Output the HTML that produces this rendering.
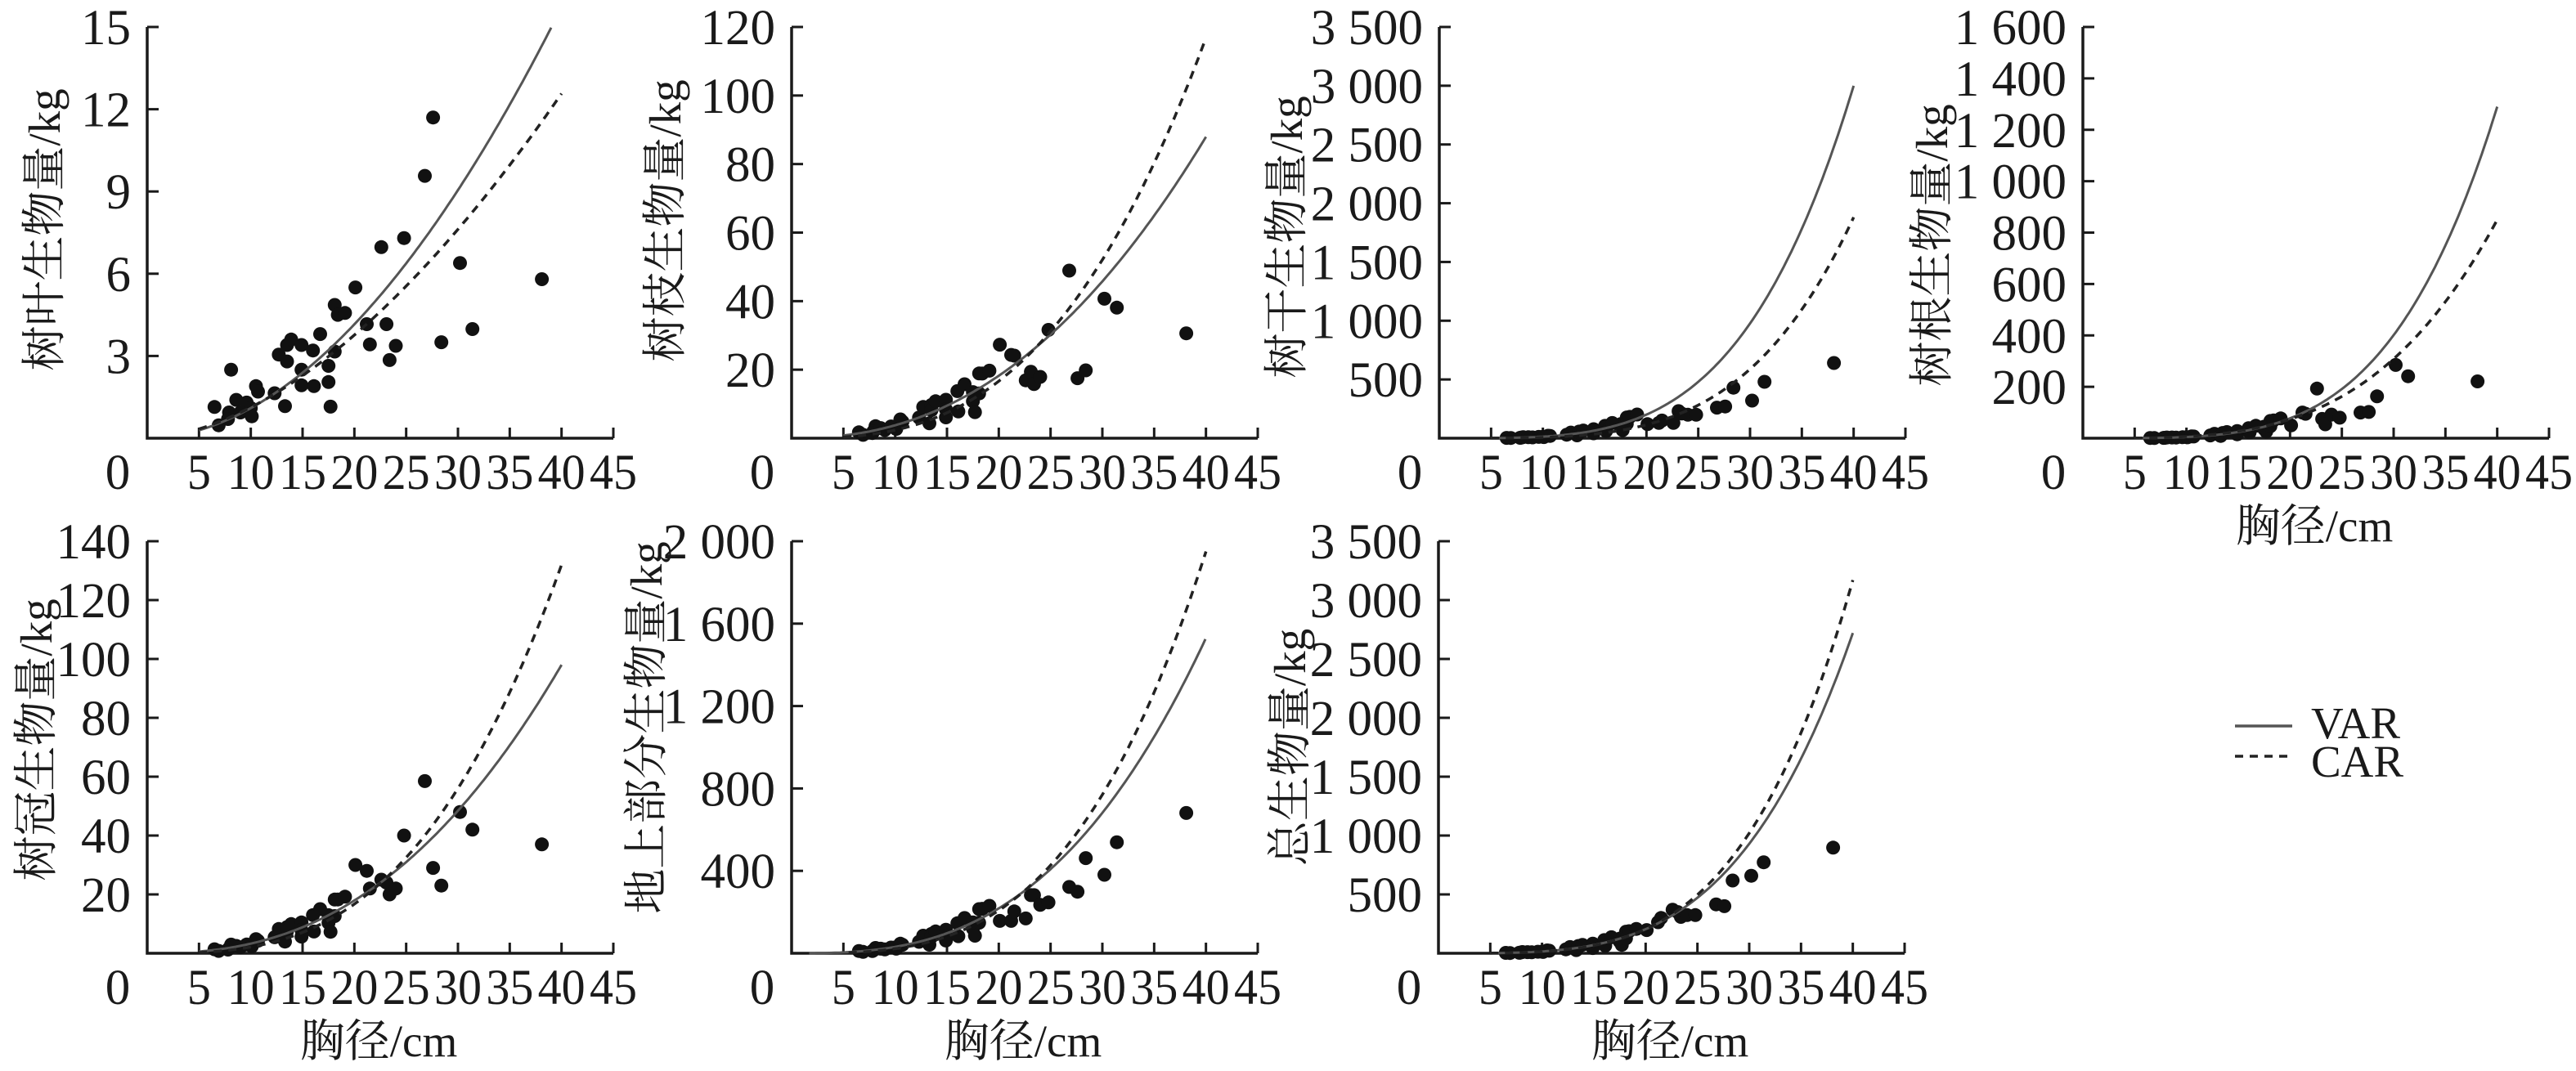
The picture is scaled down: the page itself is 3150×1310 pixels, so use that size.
<!DOCTYPE html>
<html><head><meta charset="utf-8">
<style>
html,body{margin:0;padding:0;background:#fff;}
svg{display:block;}
text{font-family:"Liberation Serif","Noto Serif CJK SC","Noto Sans CJK SC",serif;fill:#1a1a1a;}
</style></head>
<body>
<svg id="s" xmlns="http://www.w3.org/2000/svg" width="3150" height="1310" viewBox="0 0 3150 1310" font-family="'Liberation Serif','Noto Serif CJK SC',serif"></svg>
<script>
const S=document.getElementById('s');
let out='';
const D=[6.5,6.9,8.1,7.9,7.8,8.6,9.0,9.6,10,10.1,10.5,10.7,12.3,12.7,13.3,13.5,13.5,13.9,14.9,14.9,14.9,16,16.1,16.7,17.5,17.5,17.7,18.1,18.1,18.4,19.1];
const F=[1.2,0.6,1.5,0.9,0.7,1.1,0.8,1.0,0.9,0.7,1.3,1.1,1.0,1.4,0.6,1.3,1.1,1.35,1.2,0.9,0.65,1.25,0.7,1.3,1.0,0.8,0.55,0.9,1.3,1.25,1.2];
const BIG=[20.1,21.2,21.5,22.6,23.1,23.4,24,24.8,26.8,27.6,28.4,30.2,31.4,38.1];
const P=[
 {ox:180,oy:536,top:33,ymax:15,step:3,fmt:v=>v,lab:'树叶生物量/kg',lx:54,ly:281,
  va:[0.0132,1.92],ca:[0.0205,1.74],
  pts:[[6.5,1.14],[6.9,0.47],[8.1,2.5],[7.9,0.94],[7.8,0.7],[8.6,1.4],[9.0,0.94],[9.6,1.3],[10,1.1],[10.1,0.8],[10.5,1.9],[10.7,1.7],[12.3,1.64],[12.7,3.05],[13.3,1.17],[13.5,3.4],[13.5,2.8],[13.9,3.6],[14.9,3.4],[14.9,2.5],[14.9,1.93],[16,3.2],[16.1,1.9],[16.7,3.8],[17.5,2.64],[17.5,2.05],[17.7,1.15],[18.1,3.16],[18.1,4.86],[18.4,4.5],[19.1,4.57],[20.1,5.5],[21.2,4.16],[21.5,3.42],[22.6,6.97],[23.1,4.16],[23.4,2.85],[24,3.37],[24.8,7.3],[26.8,9.57],[27.6,11.7],[28.4,3.5],[30.2,6.39],[31.4,3.98],[38.1,5.8]]},
 {ox:968,oy:536,top:33,ymax:120,step:20,fmt:v=>v,lab:'树枝生物量/kg',lx:813,ly:270,
  va:[0.0203,2.27],ca:[0.00368,2.81],
  big:[27.3,24.3,24.1,16.9,19.4,15.8,17.9,31.6,48.9,17.5,19.8,40.7,38.1,30.6]},
 {ox:1760,oy:536,top:33,ymax:3500,step:500,fmt:v=>fm(v),lab:'树干生物量/kg',lx:1573,ly:290,
  vb:[40,3000,3.9],cb:[40,1880,4.04],
  big:[120,130,150,130,230,210,200,200,260,270,430,320,480,640]},
 {ox:2547,oy:536,top:33,ymax:1600,step:200,fmt:v=>fm(v),lab:'树根生物量/kg',lx:2362,ly:300,
  vb:[40,1290,4.06],cb:[40,850,3.52],xl:true,
  big:[50,100,95,193,75,54,92,80,100,102,163,285,241,221]},
 {ox:180,oy:1166,top:662,ymax:140,step:20,fmt:v=>v,lab:'树冠生物量/kg',lx:44,ly:905,
  vb:[40,98,2.45],cb:[40,132,2.98],xl:true,
  big:[30,28,22,25,24,20,22,40,58.5,29,23,48,42,37]},
 {ox:968,oy:1166,top:662,ymax:2000,step:400,fmt:v=>fm(v),lab:'地上部分生物量/kg',lx:790,ly:890,
  vb:[40,1530,2.81],cb:[40,1950,3.23],xl:true,vStart:1.7,
  big:[157,157,203,169,282,282,235,247,322,299,462,381,539,681]},
 {ox:1759,oy:1166,top:662,ymax:3500,step:500,fmt:v=>fm(v),lab:'总生物量/kg',lx:1577,ly:914,
  vb:[40,2720,3.73],cb:[40,3170,3.94],xl:true,
  big:[197,264,300,370,350,309,324,324,415,400,618,658,773,897]}
];
function fm(v){v=String(v);return v.length>3?v.slice(0,v.length-3)+' '+v.slice(-3):v;}
const PX=570/45;
P.forEach(p=>{
  const H=p.oy-p.top;
  const X=x=>p.ox+x*PX, Y=y=>p.oy-y/p.ymax*H;
  let fv,fc;
  if(p.va){fv=x=>p.va[0]*Math.pow(x,p.va[1]);fc=x=>p.ca[0]*Math.pow(x,p.ca[1]);}
  else{fv=x=>p.vb[1]*Math.pow(x/p.vb[0],p.vb[2]);fc=x=>p.cb[1]*Math.pow(x/p.cb[0],p.cb[2]);}
  out+=`<path d="M${p.ox} ${p.top}V${p.oy}H${p.ox+570}" fill="none" stroke="#1a1a1a" stroke-width="3.5"/>`;
  for(let v=p.step;v<=p.ymax+1e-9;v+=p.step){
    const y=Y(v);
    out+=`<line x1="${p.ox}" y1="${y}" x2="${p.ox+14}" y2="${y}" stroke="#1a1a1a" stroke-width="3"/>`;
    out+=`<text x="${p.ox-20}" y="${y+21}" font-size="61" text-anchor="end">${p.fmt(Math.round(v*100)/100)}</text>`;
  }
  const ty=p.oy+62;
  out+=`<text x="${p.ox-36}" y="${ty}" font-size="61" text-anchor="middle">0</text>`;
  for(let i=1;i<=9;i++){
    const x=X(i*5);
    out+=`<line x1="${x}" y1="${p.oy}" x2="${x}" y2="${p.oy-13}" stroke="#1a1a1a" stroke-width="3"/>`;
    out+=`<text x="${x}" y="${ty}" font-size="61" text-anchor="middle" textLength="${i==1?29:58}" lengthAdjust="spacingAndGlyphs">${i*5}</text>`;
  }
  out+=`<text transform="translate(${p.lx+19},${p.ly}) rotate(-90)" font-size="55" text-anchor="middle">${p.lab}</text>`;
  if(p.xl) out+=`<text x="${p.ox+283}" y="${p.oy+126}" font-size="55" text-anchor="middle">胸径/cm</text>`;
  let pts=p.pts;
  if(!pts){pts=D.map((x,i)=>[x,fv(x)*F[i]]);BIG.forEach((x,i)=>pts.push([x,p.big[i]]));}
  pts.forEach(q=>{out+=`<circle cx="${X(q[0]).toFixed(1)}" cy="${Y(q[1]).toFixed(1)}" r="8.5" fill="#111"/>`;});
  const path=(f,a,b)=>{let d='';for(let x=a;x<=b+1e-6;x+=0.25){let y=f(x);if(y>p.ymax)break;d+=(d?'L':'M')+X(x).toFixed(1)+' '+Y(y).toFixed(1);}return d;};
  out+=`<path d="${path(fv,p.vStart||5,40)}" fill="none" stroke="#555" stroke-width="3"/>`;
  out+=`<path d="${path(fc,p.vStart?5.5:5,40)}" fill="none" stroke="#222" stroke-width="3.5" stroke-dasharray="10 8"/>`;
});
out+=`<line x1="2733" y1="888" x2="2803" y2="888" stroke="#555" stroke-width="3.5"/>`;
out+=`<line x1="2733" y1="925" x2="2803" y2="925" stroke="#222" stroke-width="3.5" stroke-dasharray="10 8"/>`;
out+=`<text x="2826" y="903" font-size="55">VAR</text>`;
out+=`<text x="2826" y="950" font-size="55">CAR</text>`;
S.innerHTML=out;
</script>
</body></html>
